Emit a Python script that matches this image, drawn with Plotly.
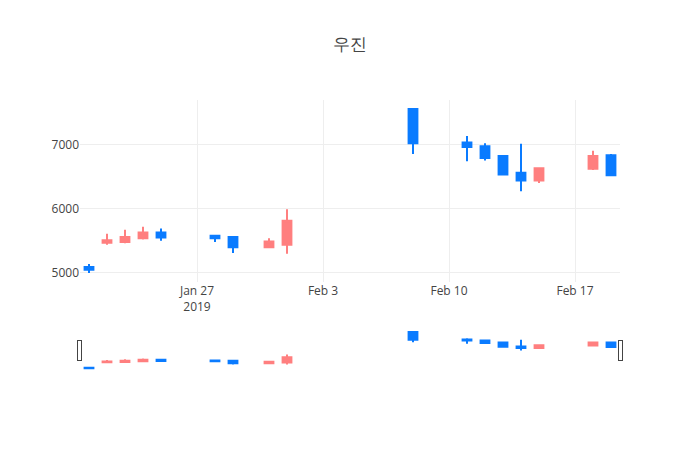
import plotly.graph_objects as go

dates = ["2019-01-21", "2019-01-22", "2019-01-23", "2019-01-24", "2019-01-25",
         "2019-01-28", "2019-01-29", "2019-01-31", "2019-02-01", "2019-02-08",
         "2019-02-11", "2019-02-12", "2019-02-13", "2019-02-14", "2019-02-15",
         "2019-02-18", "2019-02-19"]
opens = [5090, 5470, 5480, 5540, 5630, 5580, 5560, 5400, 5440, 7550,
         7030, 6970, 6820, 6560, 6440, 6620, 6830]
highs = [5140, 5610, 5670, 5720, 5690, 5590, 5560, 5540, 5990, 7550,
         7130, 7020, 6820, 7010, 6630, 6900, 6850]
lows = [5000, 5440, 5460, 5520, 5500, 5480, 5310, 5400, 5300, 6850,
        6740, 6750, 6530, 6270, 6400, 6600, 6520]
closes = [5050, 5510, 5560, 5630, 5550, 5540, 5400, 5490, 5810, 7020,
          6960, 6790, 6530, 6440, 6630, 6820, 6520]

red = "#FF7F7F"
blue = "#0A7BFF"

fig = go.Figure(go.Candlestick(
    x=dates, open=opens, high=highs, low=lows, close=closes,
    increasing=dict(line=dict(color=red), fillcolor=red),
    decreasing=dict(line=dict(color=blue), fillcolor=blue),
))
fig.update_layout(
    template="none",
    title=dict(text="우진", x=0.5),
    width=700, height=450,
    showlegend=False,
)
fig.write_html("out.html")
